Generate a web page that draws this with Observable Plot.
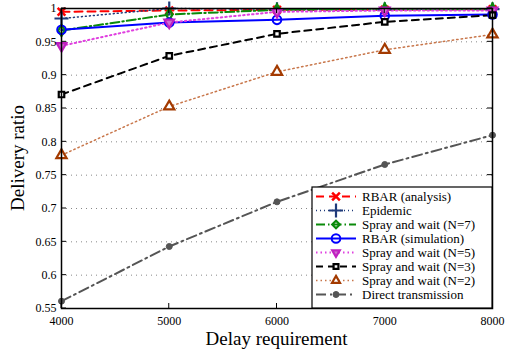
<!DOCTYPE html>
<html>
<head>
<meta charset="utf-8">
<script src="https://cdn.jsdelivr.net/npm/d3@7"></script>
<script src="https://cdn.jsdelivr.net/npm/@observablehq/plot@0.6"></script>
<style>
  html, body { margin: 0; padding: 0; background: #fff; }
  #chart { width: 505px; height: 349px; }
  svg { font-family: "Liberation Serif", "Times New Roman", serif; }
</style>
</head>
<body>
<div id="chart"></div>
<script>
const delays = [4000, 5000, 6000, 7000, 8000];
const xTicks = [4000, 5000, 6000, 7000, 8000];
const yTicks = [0.55, 0.6, 0.65, 0.7, 0.75, 0.8, 0.85, 0.9, 0.95, 1];

const seriesNames = [
  "RBAR (analysis)",
  "Epidemic",
  "Spray and wait (N=7)",
  "RBAR (simulation)",
  "Spray and wait (N=5)",
  "Spray and wait (N=3)",
  "Spray and wait (N=2)",
  "Direct transmission"
];
const rbarAnalysis = [0.995, 0.997, 0.998, 0.998, 0.999];
const epidemic     = [0.985, 1.000, 0.999, 0.999, 0.999];
const sprayN7      = [0.967, 0.991, 0.998, 0.999, 0.999];
const rbarSim      = [0.968, 0.979, 0.983, 0.989, 0.991];
const sprayN5      = [0.944, 0.979, 0.995, 0.997, 0.997];
const sprayN3      = [0.871, 0.929, 0.962, 0.980, 0.990];
const sprayN2      = [0.780, 0.853, 0.905, 0.938, 0.961];
const direct       = [0.561, 0.643, 0.710, 0.766, 0.810];
const seriesValues = [rbarAnalysis, epidemic, sprayN7, rbarSim, sprayN5, sprayN3, sprayN2, direct];

// styles
const styles = [
  {line: "#ff0000", dash: "8,5", lw: 2, symbol: "times", mstroke: "#ff0000", mfill: "none", r: 3.6, mw: 2.5},
  {line: "#1f3a7a", dash: "1,3", lw: 1.5, symbol: "plus", mstroke: "#1f3a7a", mfill: "none", r: 4.6, mw: 2.2},
  {line: "#0a8a0a", dash: "9,3,1.5,3", lw: 2, symbol: "diamond", mstroke: "#0a8a0a", mfill: "none", r: 3.4, mw: 2.2},
  {line: "#0000ff", dash: null, lw: 2, symbol: "circle", mstroke: "#0000ff", mfill: "none", r: 4.3, mw: 2},
  {line: "#e040e0", dash: "1.5,3", lw: 2, symbol: "triangle", rotate: 180, mstroke: "#c020c0", mfill: "#d070d0", r: 3.6, mw: 2.2},
  {line: "#000000", dash: "7,5", lw: 2, symbol: "square", mstroke: "#000000", mfill: "#ffffff", r: 3.1, mw: 2.2},
  {line: "#c8764a", dash: "1.5,3", lw: 1.5, symbol: "triangle", rotate: 0, mstroke: "#a33a00", mfill: "#ffffff", r: 3.8, mw: 2.2},
  {line: "#555555", dash: "10,4,2,4", lw: 2, symbol: "circle", mstroke: "#555555", mfill: "#555555", r: 3, mw: 1}
];

const data = [];
seriesNames.forEach((name, i) => {
  delays.forEach((d, j) => data.push({series: name, idx: i, delay: d, ratio: seriesValues[i][j]}));
});

const marks = [
  Plot.gridY(yTicks.slice(1, -1), {stroke: "#888", strokeOpacity: 1, strokeDasharray: "1,4", strokeWidth: 1})
];
seriesNames.forEach((name, i) => {
  const s = styles[i];
  const sub = data.filter(d => d.idx === i);
  marks.push(Plot.line(sub, {x: "delay", y: "ratio", stroke: s.line, strokeWidth: s.lw, strokeDasharray: s.dash}));
});
seriesNames.forEach((name, i) => {
  const s = styles[i];
  const sub = data.filter(d => d.idx === i);
  marks.push(Plot.dot(sub, {x: "delay", y: "ratio", symbol: () => s.symbol, r: s.r, stroke: s.mstroke, fill: s.mfill, strokeWidth: s.mw, rotate: s.rotate || 0}));
});
marks.push(
  Plot.axisY(yTicks, {tickSize: 0, tickPadding: 5, fontSize: 12, tickFormat: d => String(+d.toFixed(2)), label: null}),
  Plot.axisX(xTicks, {tickSize: 0, tickPadding: 8, fontSize: 12, tickFormat: d => String(d), label: null}),
  Plot.frame({stroke: "#000", strokeWidth: 1.5})
);

const plot = Plot.plot({
  width: 505,
  height: 349,
  marginLeft: 61,
  marginRight: 13,
  marginTop: 8,
  marginBottom: 41,
  style: {fontFamily: "'Liberation Serif', 'Times New Roman', serif", color: "#000", background: "#fff"},
  x: {domain: [4000, 8000]},
  y: {domain: [0.55, 1]},
  symbol: {type: "identity"},
  marks
});
document.getElementById("chart").appendChild(plot);

// inward ticks and axis titles using the plot's scales
const sx = plot.scale("x"), sy = plot.scale("y");
const svg = d3.select(plot);
const X0 = sx.apply(4000), X1 = sx.apply(8000), Y0 = sy.apply(0.55), Y1 = sy.apply(1);
const tk = svg.append("g").attr("stroke", "#000").attr("stroke-width", 1);
xTicks.forEach(t => {
  const x = sx.apply(t);
  tk.append("line").attr("x1", x).attr("x2", x).attr("y1", Y0).attr("y2", Y0 - 5);
  tk.append("line").attr("x1", x).attr("x2", x).attr("y1", Y1).attr("y2", Y1 + 5);
});
yTicks.forEach(t => {
  const y = sy.apply(t);
  tk.append("line").attr("x1", X0).attr("x2", X0 + 5).attr("y1", y).attr("y2", y);
  tk.append("line").attr("x1", X1).attr("x2", X1 - 5).attr("y1", y).attr("y2", y);
});
svg.append("text").attr("x", (X0 + X1) / 2).attr("y", 345).attr("text-anchor", "middle")
  .attr("font-size", 19).attr("fill", "#000").text("Delay requirement");
svg.append("text").attr("transform", `translate(24,${(Y0 + Y1) / 2}) rotate(-90)`).attr("text-anchor", "middle")
  .attr("font-size", 19).attr("fill", "#000").text("Delivery ratio");

// legend
const lg = svg.append("g").attr("text-anchor", "start");
const lx = 312, ly = 187, lw = 180, lh = 121;
lg.append("rect").attr("x", lx).attr("y", ly).attr("width", lw).attr("height", lh)
  .attr("fill", "#fff").attr("stroke", "#000").attr("stroke-width", 1.2);
const symMap = {times: d3.symbolTimes, plus: d3.symbolPlus, diamond: d3.symbolDiamond2, circle: d3.symbolCircle, triangle: d3.symbolTriangle2, square: d3.symbolSquare2};
seriesNames.forEach((name, i) => {
  const s = styles[i];
  const y = ly + 9.5 + i * 14;
  lg.append("line").attr("x1", lx + 4).attr("x2", lx + 44).attr("y1", y).attr("y2", y)
    .attr("stroke", s.line).attr("stroke-width", s.lw).attr("stroke-dasharray", s.dash || null);
  const size = s.r * s.r * Math.PI;
  lg.append("path").attr("d", d3.symbol(symMap[s.symbol], size)())
    .attr("transform", `translate(${lx + 24},${y}) rotate(${s.rotate || 0})`)
    .attr("fill", s.mfill).attr("stroke", s.mstroke).attr("stroke-width", s.mw);
  lg.append("text").attr("x", lx + 50).attr("y", y).attr("dy", "0.35em").attr("text-anchor", "start")
    .attr("font-size", 13).attr("fill", "#000").text(name);
});
</script>
</body>
</html>
